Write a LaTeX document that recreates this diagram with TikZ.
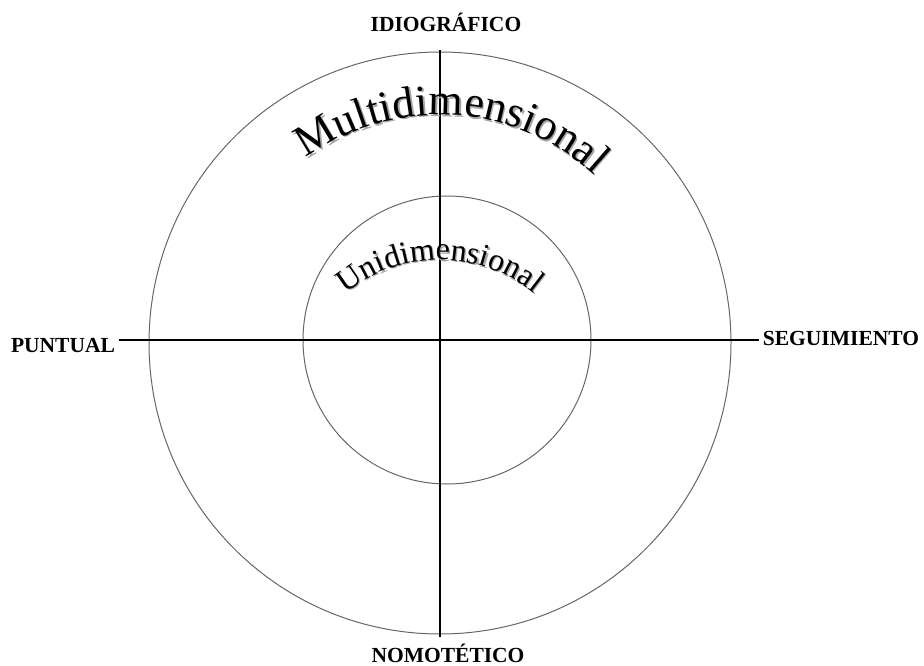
\documentclass[tikz,border=0pt]{standalone}
\usepackage{fontspec}
\setmainfont{Liberation Serif}
\usepackage{tikz}
\usetikzlibrary{positioning,calc,decorations.text}

\newcommand{\multifont}{\fontsize{44}{44}\selectfont}
\newcommand{\unifont}{\fontsize{32}{32}\selectfont}

\begin{document}
\begin{tikzpicture}[x=1pt, y=1pt,
        axis/.style={draw=black, line width=1.4pt},
        ring/.style={draw=black!60, line width=1pt},
        pole/.style={font=\fontsize{21.5}{24}\selectfont\bfseries, anchor=base, inner sep=4pt}]

    \useasboundingbox (0,0) rectangle (924,-666);

    % circles
    \coordinate (cen) at (440,-343);
    \coordinate (ucen) at (447,-340);
    \draw[ring] (cen) circle (291);
    \draw[ring] (ucen) circle (144);

    % axes
    \coordinate (o) at (440,-340);
    \coordinate (n) at (440,-50);
    \coordinate (s) at (440,-637);
    \node[pole] (idio) at (446,-32) {IDIOGRÁFICO};
    \node[pole] (nomo) at (448,-662) {NOMOTÉTICO};
    \node[pole] (puntual) at (63,-352) {PUNTUAL};
    \node[pole] (seguim) at (841,-345) {SEGUIMIENTO};
    \draw[axis] (n) -- (s);
    \draw[axis] (puntual.east |- o) -- (seguim.west |- o);

    % arched words
    \coordinate (uarc) at (440,-410);
    \path[decorate, decoration={text along path, text align=left,
        text={|\multifont\color{black!35}|Multidimensional}}]
        ($(cen)+(1.5,-1.5)+(126:228)$) arc (126:30:228);
    \path[decorate, decoration={text along path, text align=left,
        text={|\multifont|Multidimensional}}]
        ($(cen)+(126:228)$) arc (126:30:228);
    \path[decorate, decoration={text along path, text align=left,
        text={|\unifont\color{black!35}|Unidimensional}}]
        ($(uarc)+(1.2,-1.2)+(129:150)$) arc (129:30:150);
    \path[decorate, decoration={text along path, text align=left,
        text={|\unifont|Unidimensional}}]
        ($(uarc)+(129:150)$) arc (129:30:150);

\end{tikzpicture}
\end{document}
